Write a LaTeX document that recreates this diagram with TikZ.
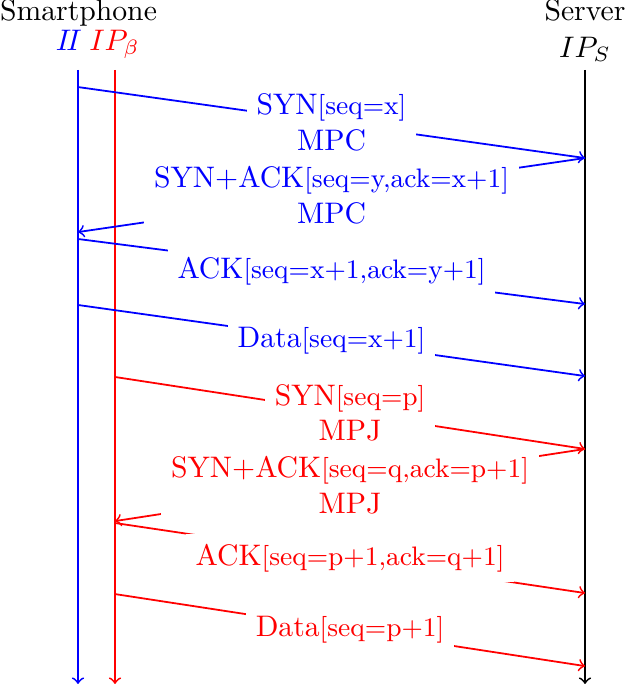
\documentclass[tikz,border=0pt]{standalone}
\usetikzlibrary{positioning}
\begin{document}
\begin{tikzpicture}[
    life/.style={->, semithick},
    msg/.style={->, semithick},
    lbl/.style={midway, fill=white, align=center}
]
\useasboundingbox (0,0) rectangle (7.396,-8.106);
% headers
\node[anchor=base] (phone) at (0.929,-0.243) {Smartphone};
\node[anchor=base] (server) at (6.923,-0.243) {Server};
\node[anchor=base, blue] (ipa) at (0.815,-0.592) {$I\!I$};
\node[anchor=base, red] (ipb) at (1.355,-0.592) {$IP_\beta$};
\node[anchor=base] (ips) at (6.923,-0.675) {$IP_S$};
% lifelines
\coordinate (atop) at (0.923,-0.828);
\coordinate (abot) at (0.923,-8.094);
\coordinate (btop) at (1.361,-0.828);
\coordinate (bbot) at (1.361,-8.094);
\coordinate (stop) at (6.923,-0.828);
\coordinate (sbot) at (6.923,-8.094);
\draw[life, blue] (atop) -- (abot);
\draw[life, red] (btop) -- (bbot);
\draw[life] (stop) -- (sbot);
% points on the lifelines
\coordinate (a1) at (0.923,-1.030);
\coordinate (a2) at (0.923,-2.746);
\coordinate (a3) at (0.923,-2.828);
\coordinate (a4) at (0.923,-3.609);
\coordinate (b1) at (1.361,-4.461);
\coordinate (b2) at (1.361,-6.166);
\coordinate (b3) at (1.361,-6.189);
\coordinate (b4) at (1.361,-7.030);
\coordinate (s1) at (6.923,-1.870);
\coordinate (s2) at (6.923,-3.598);
\coordinate (s3) at (6.923,-4.450);
\coordinate (s4) at (6.923,-5.313);
\coordinate (s5) at (6.923,-7.018);
\coordinate (s6) at (6.923,-7.882);
% MPC subflow
\draw[msg, blue] (a1) -- node[lbl] (m1) {SYN{\small[seq=x]}\\MPC} (s1);
\draw[msg, blue] (s1) -- node[lbl] (m2) {SYN+ACK{\small[seq=y,ack=x+1]}\\MPC} (a2);
\draw[msg, blue] (a3) -- node[lbl] (m3) {ACK{\small[seq=x+1,ack=y+1]}} (s2);
\draw[msg, blue] (a4) -- node[lbl] (m4) {Data{\small[seq=x+1]}} (s3);
% MPJ subflow
\draw[msg, red] (b1) -- node[lbl] (j1) {SYN{\small[seq=p]}\\MPJ} (s4);
\draw[msg, red] (s4) -- node[lbl] (j2) {SYN+ACK{\small[seq=q,ack=p+1]}\\MPJ} (b2);
\draw[msg, red] (b3) -- node[lbl] (j3) {ACK{\small[seq=p+1,ack=q+1]}} (s5);
\draw[msg, red] (b4) -- node[lbl] (j4) {Data{\small[seq=p+1]}} (s6);
\end{tikzpicture}
\end{document}
